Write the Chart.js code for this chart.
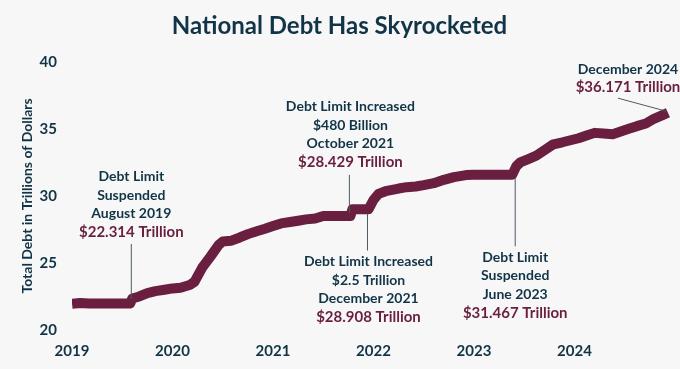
<!DOCTYPE html>
<html>
<head>
<meta charset="utf-8">
<script src="https://cdn.jsdelivr.net/npm/chart.js@4.4.1/dist/chart.umd.min.js"></script>
<style>
    html, body { margin: 0; padding: 0; background: #f7f7f7; }
    #wrap { width: 680px; height: 369px; position: relative; }
</style>
</head>
<body>
<div id="wrap"><canvas id="debtChart"></canvas></div>
<script>
// Data (decimal year -> trillions of dollars)
const debtDates = [
    2019.00, 2019.08, 2019.17, 2019.30, 2019.45, 2019.58, 2019.60, 2019.67, 2019.75, 2019.83, 2019.92,
    2020.00, 2020.08, 2020.17, 2020.22, 2020.30, 2020.38, 2020.46, 2020.50, 2020.58, 2020.67, 2020.75,
    2020.83, 2020.92, 2021.00, 2021.08, 2021.17, 2021.25, 2021.33, 2021.42, 2021.50, 2021.58, 2021.77,
    2021.79, 2021.95, 2022.00, 2022.05, 2022.12, 2022.25, 2022.33, 2022.42, 2022.50, 2022.60, 2022.70,
    2022.80, 2022.92, 2023.00, 2023.38, 2023.42, 2023.46, 2023.54, 2023.62, 2023.71, 2023.79, 2023.88,
    2023.96, 2024.04, 2024.12, 2024.20, 2024.29, 2024.38, 2024.46, 2024.54, 2024.62, 2024.71, 2024.79,
    2024.87, 2024.93
];
const debtValues = [
    21.95, 22.02, 21.98, 21.98, 21.98, 21.98, 22.35, 22.50, 22.75, 22.90, 23.00,
    23.10, 23.15, 23.35, 23.60, 24.70, 25.50, 26.35, 26.60, 26.65, 26.90, 27.15,
    27.35, 27.55, 27.75, 27.95, 28.05, 28.15, 28.25, 28.32, 28.50, 28.50, 28.50,
    29.00, 29.00, 29.70, 30.15, 30.35, 30.55, 30.65, 30.70, 30.80, 30.95, 31.20,
    31.40, 31.55, 31.57, 31.57, 32.20, 32.50, 32.75, 33.00, 33.45, 33.85, 34.00,
    34.15, 34.30, 34.50, 34.70, 34.65, 34.60, 34.80, 35.00, 35.20, 35.40, 35.75,
    36.00, 36.20
];
const yearTicks = [2019, 2020, 2021, 2022, 2023, 2024];

// Debt-limit events
const eventDates  = [2019.60, 2021.77, 2021.95, 2023.42, 2024.93];
const eventValues = [22.314, 28.429, 28.908, 31.467, 36.171];
const eventLabels = [
    ['Debt Limit', 'Suspended', 'August 2019'],
    ['Debt Limit Increased', '$480 Billion', 'October 2021'],
    ['Debt Limit Increased', '$2.5 Trillion', 'December 2021'],
    ['Debt Limit', 'Suspended', 'June 2023'],
    ['December 2024']
];

const navy = '#113447';
const maroon = '#6a1f40';

// where each callout sits relative to its point (px)
const calloutLayout = [
    { dx: -1, firstLine: -122, lead: [-55, 0] },
    { dx: 0, firstLine: -110, lead: [-42, -4] },
    { dx: 0, firstLine: 51, lead: [3, 40] },
    { dx: -1, firstLine: 81, lead: [2, 70] },
    { dx: -40, firstLine: -44, lead: null }
];

const callouts = {
    id: 'callouts',
    afterDatasetsDraw(chart) {
        const { ctx, scales: { x, y } } = chart;
        const lh = 18.5;
        ctx.save();
        ctx.textAlign = 'center';
        ctx.textBaseline = 'middle';
        eventDates.forEach((d, i) => {
            const px = x.getPixelForValue(d);
            const py = y.getPixelForValue(eventValues[i]);
            const lay = calloutLayout[i];
            const tx = px + lay.dx;
            let ty = py + lay.firstLine;
            ctx.font = 'bold 14px Lato';
            ctx.fillStyle = navy;
            eventLabels[i].forEach(t => {
                ctx.fillText(t, tx, ty);
                ty += lh;
            });
            ctx.font = 'bold 15px Lato';
            ctx.fillStyle = maroon;
            ctx.fillText('$' + eventValues[i] + ' Trillion', tx, ty);

            ctx.strokeStyle = '#4b5a62';
            ctx.lineWidth = 1;
            ctx.beginPath();
            if (lay.lead) {
                ctx.moveTo(px - 1, py + lay.lead[0]);
                ctx.lineTo(px - 1, py + lay.lead[1]);
            } else {
                ctx.moveTo(px - 50, py - 15);
                ctx.lineTo(px - 2, py - 2);
            }
            ctx.stroke();
        });
        ctx.restore();
    }
};

new Chart(document.getElementById('debtChart'), {
    type: 'line',
    data: {
        datasets: [{
            data: debtDates.map((d, i) => ({ x: d, y: debtValues[i] })),
            borderColor: maroon,
            borderWidth: 10,
            borderJoinStyle: 'round',
            pointRadius: 0,
            tension: 0
        }]
    },
    options: {
        responsive: true,
        maintainAspectRatio: false,
        animation: false,
        layout: { padding: { left: 4, right: 5, top: 0, bottom: 0 } },
        plugins: {
            legend: { display: false },
            tooltip: { enabled: false },
            title: {
                display: true,
                text: 'National Debt Has Skyrocketed',
                color: navy,
                font: { family: 'Lato', size: 24, weight: 'bold' },
                padding: { top: 12, bottom: 21 }
            }
        },
        scales: {
            x: {
                type: 'linear',
                min: 2019,
                max: 2025,
                grid: { display: false, drawTicks: false },
                border: { display: false },
                afterBuildTicks: s => { s.ticks = yearTicks.map(v => ({ value: v })); },
                afterFit: s => { s.height = 39; },
                ticks: {
                    callback: v => String(v),
                    color: navy,
                    font: { family: 'Lato', size: 15, weight: 'bold' },
                    padding: 12,
                    maxRotation: 0
                }
            },
            y: {
                min: 20,
                max: 40,
                grid: { display: false, drawTicks: false },
                border: { display: false },
                afterFit: s => { s.width = 68; },
                ticks: {
                    stepSize: 5,
                    color: navy,
                    font: { family: 'Lato', size: 15, weight: 'bold' },
                    padding: 15
                },
                title: {
                    display: true,
                    text: 'Total Debt in Trillions of Dollars',
                    color: navy,
                    font: { family: 'Lato', size: 14, weight: 'bold' },
                    padding: { top: 15, bottom: 3 }
                }
            }
        }
    },
    plugins: [callouts]
});
</script>
</body>
</html>
